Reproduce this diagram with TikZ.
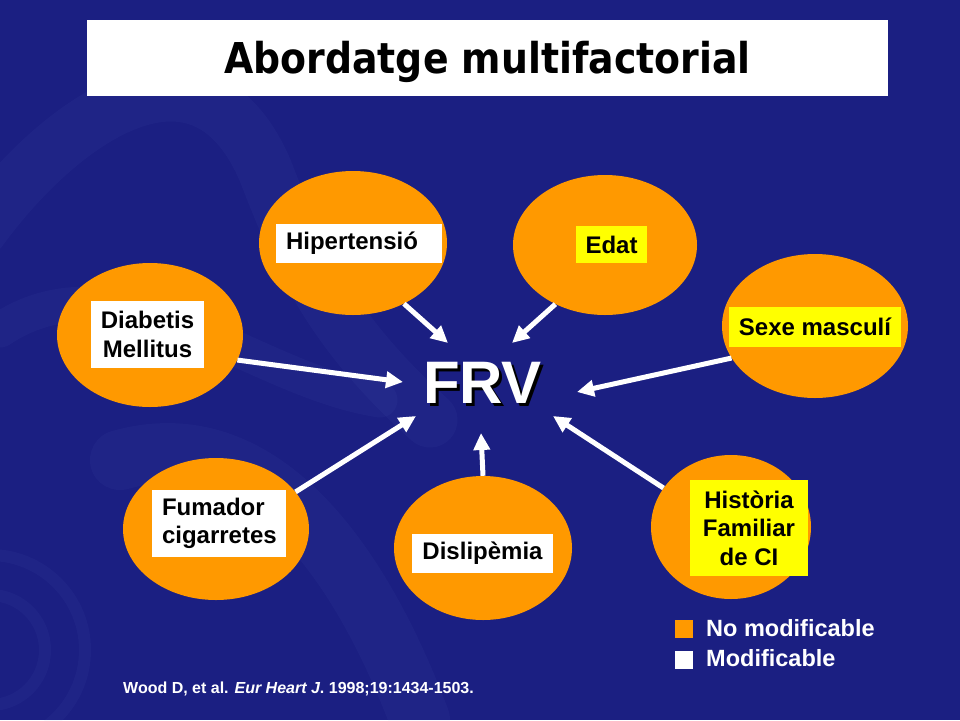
\documentclass[tikz,border=0pt]{standalone}
\usepackage{fontspec}
\setmainfont{Liberation Sans}
\newfontfamily\titlefont[FakeStretch=0.89]{DejaVu Sans}
\usetikzlibrary{shapes,arrows.meta,calc}

\definecolor{slidebg}{RGB}{27,31,130}
\definecolor{vesselblue}{RGB}{120,140,225}
\definecolor{frvorange}{RGB}{255,153,0}
\definecolor{frvyellow}{RGB}{255,255,0}

\begin{document}
\begin{tikzpicture}[x=1pt,y=-1pt,
    vessel/.style={vesselblue, opacity=.05, line cap=round},
    factor/.style={ellipse, fill=frvorange, inner sep=0pt},
    lbl/.style={fill=white, text=black, inner sep=0pt, align=center,
      font=\fontsize{24}{28.5}\selectfont\bfseries},
    nomod/.style={lbl, fill=frvyellow},
    push/.style={white, line width=5pt, -{Triangle[length=17pt,width=16pt]}},
    keytext/.style={anchor=base west, inner sep=0pt, text=white,
      font=\fontsize{23.5}{28}\selectfont\bfseries}]
    \useasboundingbox (0,0) rectangle (960,720);
    \fill[slidebg] (0,0) rectangle (960,720);

    % faint artery in the background
    \draw[vessel, line width=55pt] (-20,230) .. controls (60,120) and (200,20) .. (265,170)
      .. controls (300,260) and (330,330) .. (430,420);
    \draw[vessel, line width=35pt] (0,330) .. controls (120,250) and (250,380) .. (380,400);
    \draw[vessel, line width=60pt] (120,460) .. controls (260,420) and (360,560) .. (420,720);
    \draw[vessel, line width=12pt] (-10,650) circle (55) (-10,650) circle (95);

    % title
    \node[fill=white, minimum width=801pt, minimum height=76pt] (titlebox) at (487.5,58) {};
    \node[anchor=base, inner sep=0pt, font=\titlefont\bfseries\fontsize{42.5}{50}\selectfont]
      (title) at (487.5,73) {Abordatge multifactorial};

    % risk factors
    \node[factor, minimum width=188pt, minimum height=144pt] (hip) at (353,243) {};
    \node[factor, minimum width=184pt, minimum height=140pt] (edat) at (605,245) {};
    \node[factor, minimum width=186pt, minimum height=144pt] (diab) at (150,335) {};
    \node[factor, minimum width=186pt, minimum height=144pt] (sexe) at (815,326) {};
    \node[factor, minimum width=186pt, minimum height=142pt] (fum) at (216,529) {};
    \node[factor, minimum width=178pt, minimum height=144pt] (disl) at (483,548) {};
    \node[factor, minimum width=160pt, minimum height=144pt] (hist) at (731,527) {};

    \node[lbl, minimum width=166pt, minimum height=39pt, text width=146pt, align=left]
      (hiplbl) at (359,243.5) {Hipertensió};
    \node[nomod, minimum width=71pt, minimum height=37pt] (edatlbl) at (611.5,244.5) {Edat};
    \node[lbl, minimum width=113pt, minimum height=67pt] (diablbl) at (147.5,334.5) {Diabetis\\Mellitus};
    \node[nomod, minimum width=172pt, minimum height=40pt] (sexelbl) at (815,327) {Sexe masculí};
    \node[lbl, minimum width=134pt, minimum height=67pt, text width=114pt, align=left]
      (fumlbl) at (219,523.5) {Fumador\\cigarretes};
    \node[lbl, minimum width=141pt, minimum height=39pt] (disllbl) at (482.5,553.5) {Dislipèmia};
    \node[nomod, minimum width=118pt, minimum height=96pt] (histlbl) at (749,528) {Història\\Familiar\\de CI};

    % centre
    \node[anchor=base, inner sep=0pt, text=black, font=\fontsize{60}{60}\selectfont\bfseries]
      (frvshade) at (485.5,406) {FRV};
    \node[anchor=base, inner sep=0pt, text=white, font=\fontsize{60}{60}\selectfont\bfseries]
      (frv) at (482.5,403) {FRV};

    % arrows
    \coordinate (tiphip) at (448,343);
    \coordinate (tipedat) at (512,343);
    \coordinate (tipdiab) at (403,382);
    \coordinate (tipsexe) at (577,392);
    \coordinate (tipfum) at (416,416);
    \coordinate (tipdisl) at (481,433);
    \coordinate (tiphist) at (553,416);
    \draw[push] (hip.-50) -- (tiphip);
    \draw[push] (edat.-130) -- (tipedat);
    \draw[push] (diab.-16) -- (tipdiab);
    \draw[push] (sexe.-159) -- (tipsexe);
    \draw[push] (fum.25) -- (tipfum);
    \draw[push] (disl.90) -- (tipdisl);
    \draw[push] (hist.150) -- (tiphist);

    % legend
    \node[fill=frvorange, minimum size=18pt, inner sep=0pt] (keyno) at (684,629) {};
    \node[keytext] (keynotext) at (706,636) {No modificable};
    \node[fill=white, minimum size=18pt, inner sep=0pt] (keymod) at (684,660) {};
    \node[keytext] (keymodtext) at (706,666) {Modificable};

    % reference
    \node[anchor=base west, inner sep=0pt, text=white, font=\fontsize{16}{19}\selectfont\bfseries]
      (cite) at (123,693) {Wood D, et al. \textit{Eur Heart J}. 1998;19:1434-1503.};
\end{tikzpicture}
\end{document}
